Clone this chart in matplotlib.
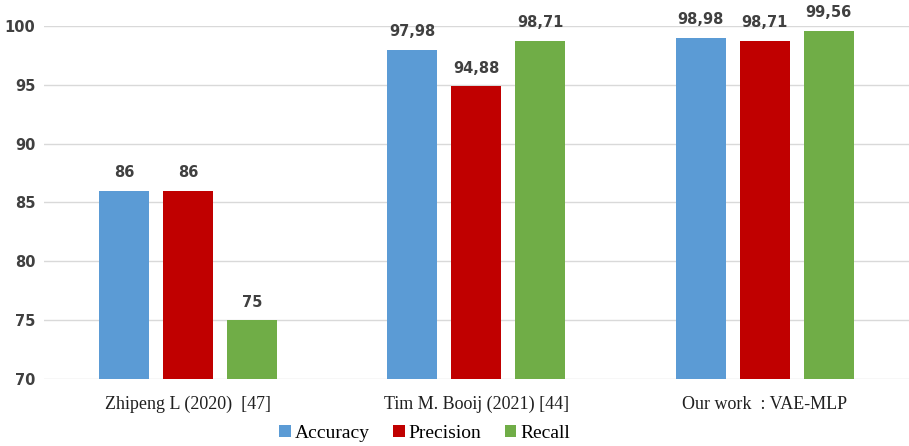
import matplotlib
matplotlib.use("Agg")
from matplotlib import pyplot as plt
import numpy as np

# data
categories = ["Zhipeng L (2020)  [47]", "Tim M. Booij (2021) [44]", "Our work  : VAE-MLP"]
accuracy = [86, 97.98, 98.98]
precision = [86, 94.88, 98.71]
recall = [75, 98.71, 99.56]
series_names = ["Accuracy", "Precision", "Recall"]
colors = ["#5B9BD5", "#C00000", "#70AD47"]
yticks = [70, 75, 80, 85, 90, 95, 100]

fig = plt.figure(figsize=(9.09, 4.46), dpi=100)
ax = fig.add_axes([0.048, 0.150, 0.952, 0.792])

x = np.arange(len(categories))
width = 0.174
step = 0.222
series = [accuracy, precision, recall]

for i, vals in enumerate(series):
    pos = x + (i - 1) * step
    ax.bar(pos, [v - 70 for v in vals], width, bottom=70, color=colors[i],
           label=series_names[i], zorder=3)
    for p, v in zip(pos, vals):
        txt = ("%.2f" % v).replace(".", ",") if v != int(v) else str(int(v))
        ax.text(p, v + 0.9, txt, ha="center", va="bottom", fontsize=10.5,
                fontweight="bold", color="#404040")

ax.set_xlim(-0.5, 2.5)
ax.set_ylim(70, 100)
ax.set_yticks(yticks)
ax.set_yticklabels([str(t) for t in yticks], fontsize=10.5, fontweight="bold", color="#404040")
ax.set_xticks(x)
ax.set_xticklabels(categories, fontsize=13, family="Liberation Serif", color="#202020")
ax.tick_params(axis="both", length=0)
ax.tick_params(axis="y", pad=6)
ax.tick_params(axis="x", pad=12)
ax.grid(axis="y", color="#D9D9D9", lw=1, zorder=0)
for s in ax.spines.values():
    s.set_visible(False)

ax.legend(loc="upper center", bbox_to_anchor=(0.44, -0.102), ncol=3, frameon=False,
          prop={"family": "Liberation Serif", "size": 14}, handlelength=0.6,
          handleheight=0.6, handletextpad=0.2, columnspacing=1.2, borderaxespad=0.1)

fig.savefig("out.png", dpi=100)
